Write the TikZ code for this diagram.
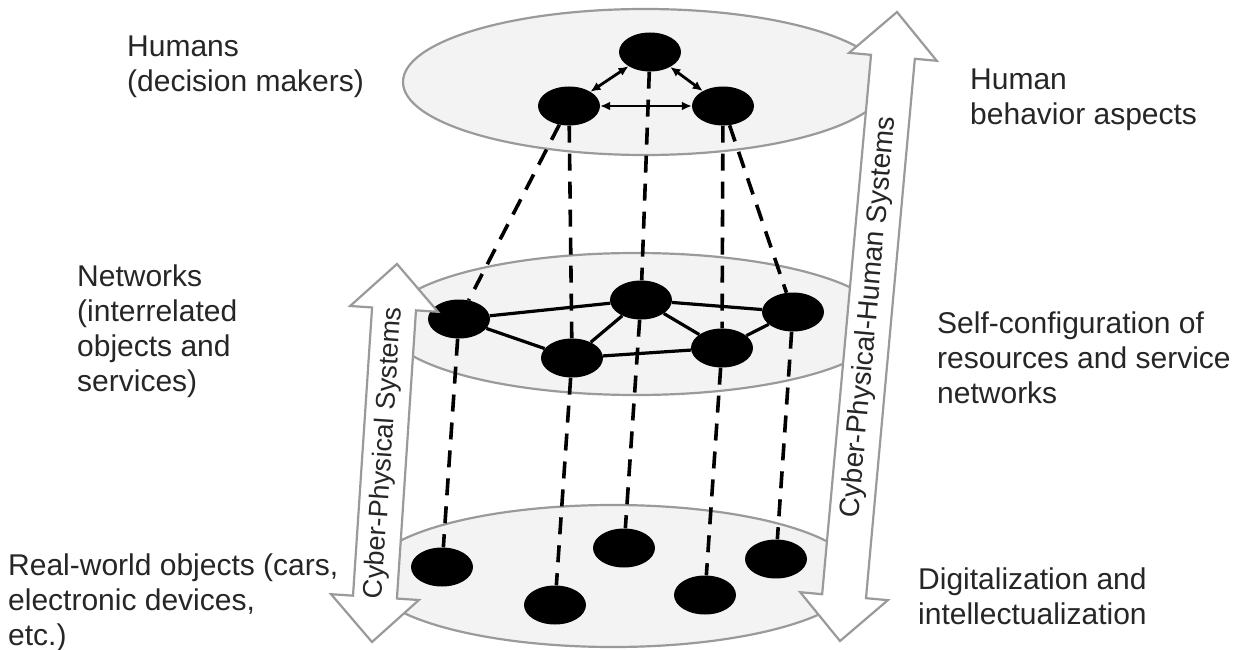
\documentclass[tikz,border=0pt]{standalone}
\usepackage{fontspec}
\setmainfont{Liberation Sans}
\usetikzlibrary{calc,arrows.meta,shapes.geometric}
\definecolor{edgegray}{HTML}{9A9A9A}
\definecolor{layerfill}{HTML}{F3F3F3}
\definecolor{txt}{HTML}{262626}
\begin{document}
\begin{tikzpicture}[x=1pt,y=-1pt,
  layer/.style={draw=edgegray, fill=layerfill, line width=2.2pt, ellipse, inner sep=0pt},
  dot/.style={ellipse, fill=black, draw=none, minimum width=62pt, minimum height=39pt, inner sep=0pt},
  dashline/.style={line width=3.6pt, dash pattern=on 17pt off 11pt},
  link/.style={line width=3.2pt},
  toparrow/.style={line width=2.8pt, {Latex[length=10pt,width=9pt]}-{Latex[length=10pt,width=9pt]}},
  bigarrow/.style={draw=edgegray, fill=white, line width=2.2pt, line join=miter},
  label/.style={anchor=north west, inner sep=0pt, align=left, text=txt, font=\fontsize{30}{35}\selectfont},
  rotlabel/.style={inner sep=0pt, text=txt, font=\fontsize{28}{32}\selectfont}]
\path[fill=white] (0,0) rectangle (1250,650);
\useasboundingbox (0,0) rectangle (1250,650);

% layers
\node[layer, minimum width=484pt, minimum height=146pt] (L1) at (645,82) {};
\node[layer, minimum width=500pt, minimum height=142pt] (L2) at (636,324) {};
\node[layer, minimum width=490pt, minimum height=142pt] (L3) at (613,576) {};

% top nodes
\node[dot] (t1) at (650,52) {};
\node[dot] (t2) at (569,106) {};
\node[dot] (t3) at (723,106) {};
% middle nodes
\node[dot] (m1) at (459,319) {};
\node[dot] (m2) at (641,300) {};
\node[dot] (m3) at (572,358) {};
\node[dot] (m4) at (722,348) {};
\node[dot] (m5) at (793,312) {};
% bottom nodes
\node[dot] (b1) at (442,567) {};
\node[dot] (b2) at (555,605) {};
\node[dot] (b3) at (624,548) {};
\node[dot] (b4) at (705,595) {};
\node[dot] (b5) at (776,559) {};

% arrows among humans
\draw[toparrow] (t2) -- (t1);
\draw[toparrow] (t1) -- (t3);
\draw[toparrow] (t2) -- (t3);

% network links
\draw[link] (m1) -- (m2);
\draw[link] (m1) -- (m3);
\draw[link] (m3) -- (m2);
\draw[link] (m3) -- (m4);
\draw[link] (m2) -- (m4);
\draw[link] (m2) -- (m5);
\draw[link] (m4) -- (m5);

% dashed vertical links
\draw[dashline] (t2) -- (m1);
\draw[dashline] (t2) -- (m3);
\draw[dashline] (t1) -- (m2);
\draw[dashline] (t3) -- (m4);
\draw[dashline] (t3) -- (m5);
\draw[dashline] (m1) -- (b1);
\draw[dashline] (m3) -- (b2);
\draw[dashline] (m2) -- (b3);
\draw[dashline] (m4) -- (b4);
\draw[dashline] (m5) -- (b5);

% right big arrow
\coordinate (RT) at (897,12);
\coordinate (RB) at (840,641);
\coordinate (RH1) at ($(RT)!45pt!(RB)$);
\coordinate (RH2) at ($(RB)!45pt!(RT)$);
\draw[bigarrow] (RT) -- ($(RH1)!44pt!90:(RT)$) -- ($(RH1)!22pt!90:(RT)$)
  -- ($(RH2)!22pt!-90:(RB)$) -- ($(RH2)!44pt!-90:(RB)$) -- (RB)
  -- ($(RH2)!44pt!90:(RB)$) -- ($(RH2)!22pt!90:(RB)$)
  -- ($(RH1)!22pt!-90:(RT)$) -- ($(RH1)!44pt!-90:(RT)$) -- cycle;
\node[rotlabel, rotate=84.82] (cphs) at ($(RB)!0.515!(RT)$) {Cyber-Physical-Human Systems};

% left big arrow
\coordinate (LT) at (397,264);
\coordinate (LB) at (372,642);
\coordinate (LH1) at ($(LT)!45pt!(LB)$);
\coordinate (LH2) at ($(LB)!45pt!(LT)$);
\draw[bigarrow] (LT) -- ($(LH1)!44pt!90:(LT)$) -- ($(LH1)!22pt!90:(LT)$)
  -- ($(LH2)!22pt!-90:(LB)$) -- ($(LH2)!44pt!-90:(LB)$) -- (LB)
  -- ($(LH2)!44pt!90:(LB)$) -- ($(LH2)!22pt!90:(LB)$)
  -- ($(LH1)!22pt!-90:(LT)$) -- ($(LH1)!44pt!-90:(LT)$) -- cycle;
\node[rotlabel, font=\fontsize{27}{32}\selectfont, rotate=86.2] (cps) at ($(LB)!0.5!(LT)$) {Cyber-Physical Systems};

% texts
\node[label] (humans) at (127,36) {Humans\\(decision makers)};
\node[label] (hba) at (970,69) {Human\\behavior aspects};
\node[label] (net) at (77,265) {Networks\\(interrelated\\objects and\\services)};
\node[label] (selfc) at (937,312) {Self-configuration of\\resources and service\\networks};
\node[label] (rwo) at (8,554) {Real-world objects (cars,\\electronic devices,\\etc.)};
\node[label] (dig) at (918,568) {Digitalization and\\intellectualization};
\end{tikzpicture}
\end{document}
